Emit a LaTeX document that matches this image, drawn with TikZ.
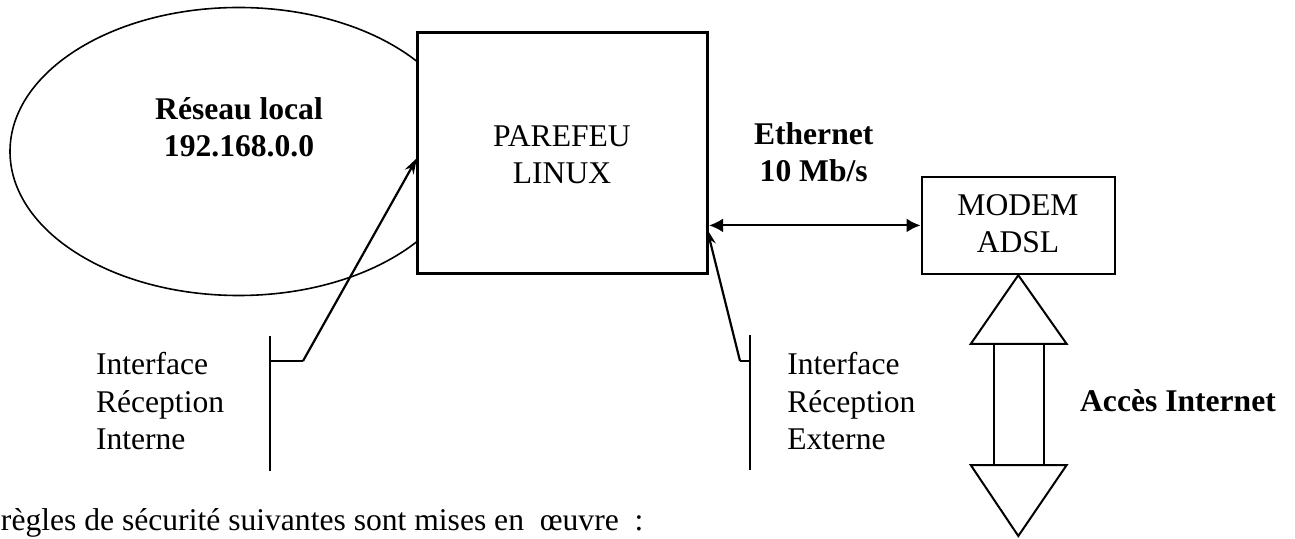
\documentclass[tikz,border=0pt]{standalone}
\usepackage{fontspec}
\setmainfont{Liberation Serif}
\usetikzlibrary{arrows.meta}
\begin{document}
\begin{tikzpicture}[x=0.5pt,y=-0.5pt,
  txt/.style={font=\fontsize{15.8}{18.8}\selectfont, inner sep=0pt, outer sep=0pt, align=center},
  ltxt/.style={font=\fontsize{15.8}{18.8}\selectfont, inner sep=0pt, outer sep=0pt, align=left},
  btxt/.style={txt, font=\fontsize{15.8}{18.8}\selectfont\bfseries},
  boxst/.style={draw, line width=1.4pt, fill=white, inner sep=0pt},
  thin/.style={line width=0.9pt},
  arr/.style={line width=1.1pt, -{Stealth[length=8pt,width=5pt]}},
  dbl/.style={line width=1pt, {Latex[length=7pt,width=7pt]}-{Latex[length=7pt,width=7pt]}},
  fat/.style={line width=1pt, fill=white, line join=miter}
]
\useasboundingbox (0,0) rectangle (1295,539);
% local network
\draw[line width=0.8pt] (238.6,151.5) ellipse [x radius=228.6, y radius=144];
\node[btxt, anchor=base] (lan) at (239,156.7) {Réseau local\\192.168.0.0};
% firewall
\node[boxst, minimum width=145pt, minimum height=120.3pt] (parefeu) at (562.7,153) {};
\node[txt, anchor=base] (pftxt) at (562,184) {PAREFEU\\LINUX};
% ethernet label
\node[btxt, anchor=base] (eth) at (813.7,181.7) {Ethernet\\10 Mb/s};
% modem
\node[boxst, line width=1.2pt, minimum width=96.6pt, minimum height=48.6pt] (modem) at (1018.3,225.4) {};
\node[txt, anchor=base] (mtxt) at (1018,253) {MODEM\\ADSL};
\draw[dbl] (modem.west -| parefeu.east) -- (modem.west);
% internet access arrow
\draw[fat] (modem.south) -- (1066.7,344) -- (970.7,344) -- cycle;
\draw[fat] (994,344) rectangle (1044,465);
\draw[fat] (970.7,465) -- (1066.7,465) -- (1018.3,536) -- cycle;
\node[btxt, anchor=base] (acces) at (1178,411.7) {Accès Internet};
% internal interface
\coordinate (lt) at (270,336);
\coordinate (lb) at (270,471);
\coordinate (lk) at (270,361);
\coordinate (lj) at (303,361);
\coordinate (lin) at (417,158);
\draw[thin] (lt) -- (lb);
\draw[thin] (lk) -- (lj);
\draw[arr] (lj) -- (lin);
\node[ltxt, anchor=base west] (lint) at (96,450) {Interface\\Réception\\Interne};
% external interface
\coordinate (rt) at (750,335);
\coordinate (rb) at (750,470);
\coordinate (rk) at (750,361);
\coordinate (rj) at (740,361);
\coordinate (rin) at (707,229);
\draw[thin] (rt) -- (rb);
\draw[thin] (rk) -- (rj);
\draw[arr] (rj) -- (rin);
\node[ltxt, anchor=base west] (rint) at (787.3,450) {Interface\\Réception\\Externe};
% bottom text
\node[ltxt, anchor=base west] (rules) at (1,530) {règles de sécurité suivantes sont mises en \ œuvre \ :};
\end{tikzpicture}
\end{document}
